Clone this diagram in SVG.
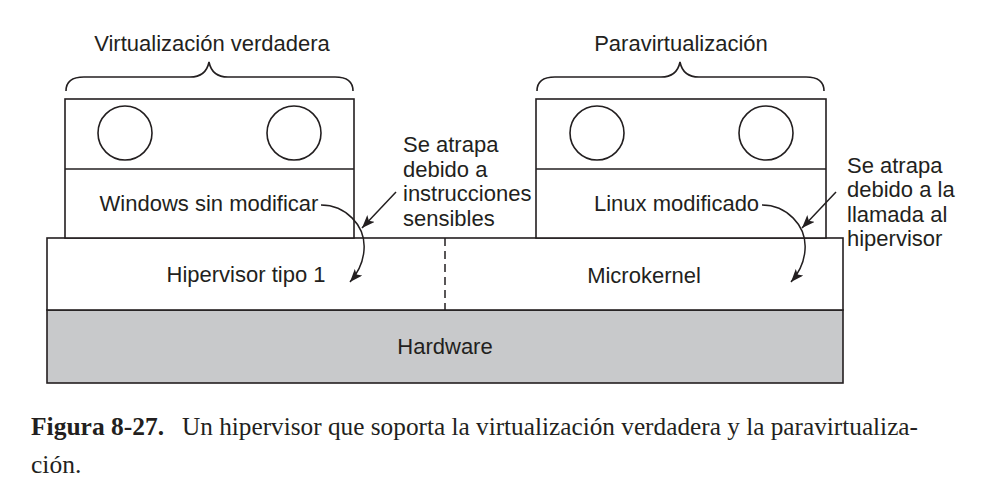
<svg xmlns="http://www.w3.org/2000/svg" width="1003" height="491" viewBox="0 0 1003 491">
<style>
.box{fill:#ffffff;stroke:#231f20;stroke-width:1.6}
.hw{fill:#c8c9cb;stroke:#231f20;stroke-width:1.6}
.ln{fill:none;stroke:#231f20;stroke-width:1.6}
.lbl{font-family:"Liberation Sans",Arial,sans-serif;font-size:22px;fill:#231f20}
.mid{text-anchor:middle}
.cap{font-family:"Liberation Serif","Times New Roman",serif;font-size:25.5px;fill:#231f20}
.arrow{fill:none;stroke:#231f20;stroke-width:1.5;marker-end:url(#ah)}
</style>
<defs>
<marker id="ah" markerUnits="userSpaceOnUse" markerWidth="14" markerHeight="10" refX="13" refY="5" orient="auto">
<path d="M0,0 L13,5 L0,10 L3,5 Z" fill="#231f20"/>
</marker>
</defs>
<rect width="1003" height="491" fill="#ffffff"/>

<g id="hardware">
<rect class="hw" x="47" y="310" width="796" height="73"/>
<text class="lbl mid" x="445" y="354">Hardware</text>
</g>

<g id="hypervisor">
<rect class="box" x="47" y="238" width="796" height="72"/>
<line x1="445" y1="238" x2="445" y2="310" stroke="#231f20" stroke-width="1.5" stroke-dasharray="8,5"/>
<text class="lbl mid" x="246" y="282">Hipervisor tipo 1</text>
<text class="lbl mid" x="644" y="283">Microkernel</text>
</g>

<g id="windows-vm">
<rect class="box" x="65" y="99" width="289" height="139"/>
<line class="ln" x1="65" y1="169" x2="354" y2="169"/>
<circle class="ln" cx="125" cy="133" r="27"/>
<circle class="ln" cx="294" cy="133" r="27"/>
<text class="lbl mid" x="209" y="211">Windows sin modificar</text>
</g>

<g id="linux-vm">
<rect class="box" x="536" y="99" width="290" height="139"/>
<line class="ln" x1="536" y1="169" x2="826" y2="169"/>
<circle class="ln" cx="597" cy="133" r="27"/>
<circle class="ln" cx="766" cy="133" r="27"/>
<text class="lbl" x="594" y="211">Linux modificado</text>
</g>

<g id="brace-true">
<path class="ln" d="M66,91 C66,82 72,77 84,77 L190,77 C201,77 207,72 209,62 C211,72 217,77 228,77 L335,77 C347,77 353,82 353,91"/>
<text class="lbl mid" x="212" y="51">Virtualización verdadera</text>
</g>

<g id="brace-para">
<path class="ln" d="M537,91 C537,82 543,77 555,77 L661,77 C672,77 678,72 680,62 C682,72 688,77 699,77 L806,77 C818,77 824,82 824,91"/>
<text class="lbl mid" x="681" y="51">Paravirtualización</text>
</g>

<g id="note-sensitive">
<text class="lbl" x="403" y="152">Se atrapa</text>
<text class="lbl" x="403" y="176.5">debido a</text>
<text class="lbl" x="403" y="201">instrucciones</text>
<text class="lbl" x="403" y="225.5">sensibles</text>
</g>

<g id="note-hypercall">
<text class="lbl" x="847" y="172.5">Se atrapa</text>
<text class="lbl" x="847" y="197">debido a la</text>
<text class="lbl" x="847" y="221.5">llamada al</text>
<text class="lbl" x="847" y="246">hipervisor</text>
</g>

<g id="connectors">
<path class="arrow" d="M321,205 C345,205 366,225 364,250 C363,265 357,274 350,282"/>
<path class="arrow" d="M396,192 L362,228"/>
<path class="arrow" d="M762,205 C786,205 807,225 805,250 C804,265 798,274 791,282"/>
<path class="arrow" d="M836,192 L802,228"/>
</g>

<g id="caption">
<text class="cap" x="31" y="435" font-weight="bold">Figura 8-27.</text>
<text class="cap" x="182" y="435" textLength="736" lengthAdjust="spacingAndGlyphs">Un hipervisor que soporta la virtualización verdadera y la paravirtualiza-</text>
<text class="cap" x="31" y="473">ción.</text>
</g>
</svg>
